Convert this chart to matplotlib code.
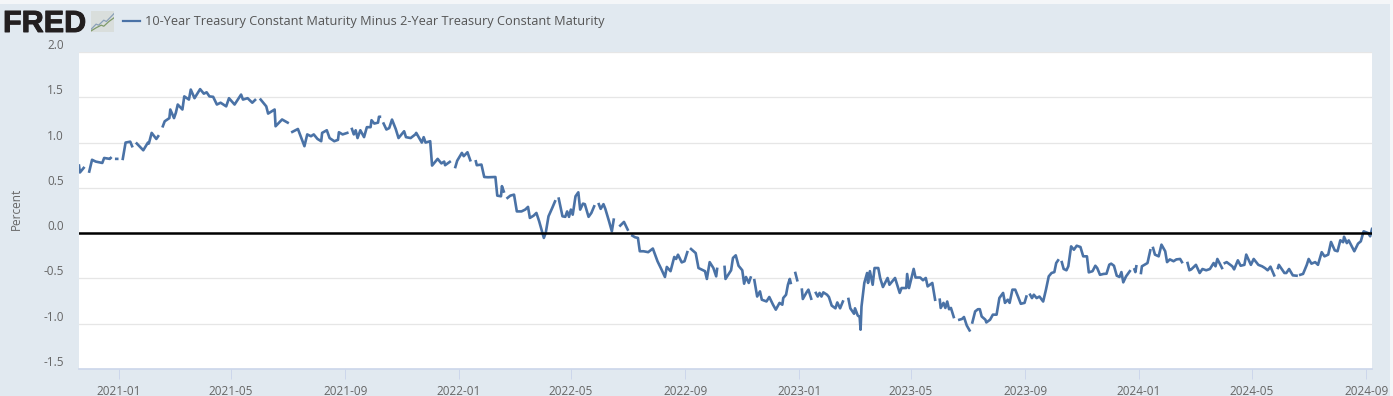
import numpy as np
import pandas as pd
import matplotlib
matplotlib.use("Agg")
import matplotlib.pyplot as plt
import matplotlib.patheffects as pe
from matplotlib.lines import Line2D

plt.rcParams["font.family"] = ["Open Sans", "DejaVu Sans"]

nan = np.nan

# -----------------------------
# Data (nan = gap in the series)
# -----------------------------
dates_2020 = ["2020-11-19", "2020-11-20", "2020-11-24", "2020-11-27", "2020-11-30", "2020-12-03", "2020-12-07",
              "2020-12-14", "2020-12-16", "2020-12-22", "2020-12-23", "2020-12-26", "2020-12-29", "2020-12-30"]
values_2020 = [0.746, 0.67, 0.72, nan, 0.68, 0.81, 0.79,
               0.775, 0.83, 0.82, 0.83, nan, 0.82, 0.82]

dates_2021 = ["2021-01-02", "2021-01-05", "2021-01-08", "2021-01-13", "2021-01-15", "2021-01-17", "2021-01-20",
              "2021-01-27", "2021-02-01", "2021-02-02", "2021-02-05", "2021-02-10", "2021-02-12", "2021-02-14",
              "2021-02-17", "2021-02-19", "2021-02-24", "2021-02-25", "2021-03-01", "2021-03-03", "2021-03-05",
              "2021-03-10", "2021-03-12", "2021-03-17", "2021-03-19", "2021-03-23", "2021-03-29", "2021-04-02",
              "2021-04-05", "2021-04-08", "2021-04-12", "2021-04-16", "2021-04-20", "2021-04-26", "2021-04-29",
              "2021-05-05", "2021-05-12", "2021-05-14", "2021-05-19", "2021-05-24", "2021-05-27", "2021-05-30",
              "2021-06-02", "2021-06-08", "2021-06-10", "2021-06-17", "2021-06-18", "2021-06-25", "2021-07-01",
              "2021-07-04", "2021-07-06", "2021-07-12", "2021-07-15", "2021-07-19", "2021-07-22", "2021-07-26",
              "2021-07-29", "2021-08-02", "2021-08-06", "2021-08-07", "2021-08-12", "2021-08-15", "2021-08-20",
              "2021-08-24", "2021-08-25", "2021-08-29", "2021-09-03", "2021-09-05", "2021-09-08", "2021-09-10",
              "2021-09-12", "2021-09-14", "2021-09-17", "2021-09-21", "2021-09-24", "2021-09-28", "2021-09-29",
              "2021-10-02", "2021-10-06", "2021-10-07", "2021-10-08", "2021-10-10", "2021-10-12", "2021-10-15",
              "2021-10-18", "2021-10-21", "2021-10-25", "2021-10-28", "2021-11-03", "2021-11-05", "2021-11-10",
              "2021-11-15", "2021-11-16", "2021-11-22", "2021-11-24", "2021-11-26", "2021-12-01", "2021-12-03",
              "2021-12-09", "2021-12-13", "2021-12-16", "2021-12-17", "2021-12-22", "2021-12-25", "2021-12-28",
              "2021-12-30"]
values_2021 = [nan, 0.82, 1.0, 1.01, 0.96, nan, 0.99,
               0.915, 1.0, 0.99, 1.107, 1.04, 1.07, nan,
               1.18, 1.235, 1.27, 1.365, 1.27, 1.33, 1.42,
               1.365, 1.51, 1.475, 1.585, 1.49, 1.59, 1.54,
               1.555, 1.51, 1.505, 1.42, 1.44, 1.40, 1.49,
               1.42, 1.53, 1.475, 1.49, 1.44, 1.47, nan,
               1.475, 1.40, 1.32, 1.365, 1.18, 1.255, 1.22,
               nan, 1.118, 1.15, 1.07, 0.96, 1.09, 1.07,
               1.09, 1.04, 1.015, 1.107, 1.136, 1.05, 1.015,
               1.03, 1.114, 1.09, 1.107, nan, 1.15, 1.09,
               1.136, 1.05, 1.136, 1.06, 1.17, 1.17, 1.247,
               1.21, 1.22, 1.285, 1.285, nan, 1.21, 1.144,
               1.16, 1.254, 1.15, 1.05, 1.125, 1.06, 1.05,
               1.09, 1.107, 1.0, 1.06, 1.0, 1.015, 0.746,
               0.82, 0.77, 0.79, 0.75, 0.787, nan, 0.73,
               0.80]

dates_2022 = ["2022-01-04", "2022-01-06", "2022-01-10", "2022-01-13", "2022-01-16", "2022-01-19", "2022-01-20",
              "2022-01-25", "2022-01-28", "2022-02-01", "2022-02-09", "2022-02-11", "2022-02-15", "2022-02-16",
              "2022-02-18", "2022-02-20", "2022-02-22", "2022-02-25", "2022-03-01", "2022-03-04", "2022-03-09",
              "2022-03-13", "2022-03-16", "2022-03-18", "2022-03-22", "2022-03-25", "2022-03-28", "2022-04-02",
              "2022-04-04", "2022-04-07", "2022-04-11", "2022-04-14", "2022-04-16", "2022-04-18", "2022-04-22",
              "2022-04-25", "2022-04-27", "2022-04-29", "2022-05-01", "2022-05-03", "2022-05-06", "2022-05-09",
              "2022-05-11", "2022-05-14", "2022-05-16", "2022-05-20", "2022-05-23", "2022-05-26", "2022-05-29",
              "2022-05-31", "2022-06-02", "2022-06-05", "2022-06-07", "2022-06-11", "2022-06-14", "2022-06-16",
              "2022-06-20", "2022-06-23", "2022-06-27", "2022-07-01", "2022-07-04", "2022-07-06", "2022-07-09",
              "2022-07-12", "2022-07-14", "2022-07-18", "2022-07-23", "2022-07-28", "2022-08-02", "2022-08-06",
              "2022-08-10", "2022-08-12", "2022-08-16", "2022-08-20", "2022-08-22", "2022-08-24", "2022-08-28",
              "2022-08-31", "2022-09-03", "2022-09-05", "2022-09-07", "2022-09-12", "2022-09-15", "2022-09-18",
              "2022-09-22", "2022-09-24", "2022-09-27", "2022-10-01", "2022-10-04", "2022-10-05", "2022-10-09",
              "2022-10-13", "2022-10-14", "2022-10-20", "2022-10-22", "2022-10-25", "2022-10-28", "2022-11-01",
              "2022-11-03", "2022-11-05", "2022-11-08", "2022-11-10", "2022-11-12", "2022-11-14", "2022-11-17",
              "2022-11-20", "2022-11-22", "2022-11-27", "2022-11-30", "2022-12-04", "2022-12-07", "2022-12-11",
              "2022-12-14", "2022-12-15", "2022-12-18", "2022-12-20", "2022-12-22", "2022-12-23", "2022-12-25",
              "2022-12-28", "2022-12-30"]
values_2022 = [0.886, 0.85, 0.893, 0.805, nan, 0.793, 0.75,
               0.757, 0.62, 0.617, 0.62, 0.414, 0.407, 0.519,
               0.46, nan, 0.389, 0.414, 0.425, 0.24, 0.24,
               0.26, 0.29, 0.168, 0.193, 0.223, 0.13, -0.053,
               0.002, 0.186, 0.278, 0.351, nan, 0.381, 0.186,
               0.18, 0.24, 0.18, 0.26, 0.204, 0.407, 0.451,
               0.26, 0.326, 0.32, 0.18, 0.223, 0.296, nan,
               0.32, 0.268, 0.32, 0.268, 0.13, 0.02, 0.149,
               nan, 0.083, 0.124, 0.039, nan, -0.028, -0.046,
               -0.053, -0.20, -0.20, -0.21, -0.17, -0.31, -0.395,
               -0.484, -0.373, -0.42, -0.263, -0.285, -0.238, -0.323,
               -0.31, -0.21, nan, -0.175, -0.22, -0.385, -0.40,
               -0.42, -0.506, -0.32, -0.385, -0.477, -0.395, nan,
               -0.373, -0.506, -0.41, -0.274, -0.245, -0.36, -0.41,
               -0.558, -0.484, -0.55, -0.49, nan, -0.52, -0.70,
               -0.643, -0.735, -0.754, -0.705, -0.79, -0.845, -0.77,
               -0.79, -0.716, -0.68, -0.57, -0.506, -0.55, nan,
               -0.44, -0.52]

dates_2023 = ["2023-01-01", "2023-01-04", "2023-01-05", "2023-01-09", "2023-01-11", "2023-01-14", "2023-01-16",
              "2023-01-19", "2023-01-21", "2023-01-23", "2023-01-25", "2023-01-27", "2023-01-31", "2023-02-02",
              "2023-02-05", "2023-02-09", "2023-02-11", "2023-02-14", "2023-02-17", "2023-02-20", "2023-02-23",
              "2023-02-25", "2023-03-01", "2023-03-02", "2023-03-05", "2023-03-07", "2023-03-08", "2023-03-09",
              "2023-03-12", "2023-03-15", "2023-03-16", "2023-03-18", "2023-03-21", "2023-03-23", "2023-03-27",
              "2023-03-29", "2023-04-01", "2023-04-06", "2023-04-08", "2023-04-14", "2023-04-19", "2023-04-21",
              "2023-04-26", "2023-04-27", "2023-04-29", "2023-05-04", "2023-05-06", "2023-05-11", "2023-05-14",
              "2023-05-17", "2023-05-19", "2023-05-24", "2023-05-27", "2023-05-29", "2023-06-01", "2023-06-02",
              "2023-06-05", "2023-06-07", "2023-06-09", "2023-06-11", "2023-06-13", "2023-06-16", "2023-06-19",
              "2023-06-22", "2023-06-25", "2023-06-27", "2023-06-30", "2023-07-03", "2023-07-04", "2023-07-06",
              "2023-07-09", "2023-07-12", "2023-07-14", "2023-07-16", "2023-07-20", "2023-07-21", "2023-07-25",
              "2023-07-28", "2023-08-01", "2023-08-04", "2023-08-08", "2023-08-10", "2023-08-13", "2023-08-15",
              "2023-08-18", "2023-08-21", "2023-08-24", "2023-08-27", "2023-08-31", "2023-09-02", "2023-09-04",
              "2023-09-06", "2023-09-08", "2023-09-10", "2023-09-13", "2023-09-16", "2023-09-20", "2023-09-23",
              "2023-09-26", "2023-09-29", "2023-10-02", "2023-10-04", "2023-10-06", "2023-10-08", "2023-10-10",
              "2023-10-12", "2023-10-15", "2023-10-17", "2023-10-20", "2023-10-23", "2023-10-26", "2023-10-30",
              "2023-11-02", "2023-11-06", "2023-11-08", "2023-11-12", "2023-11-15", "2023-11-17", "2023-11-20",
              "2023-11-24", "2023-11-27", "2023-11-30", "2023-12-02", "2023-12-05", "2023-12-08", "2023-12-11",
              "2023-12-13", "2023-12-15", "2023-12-18", "2023-12-22", "2023-12-24", "2023-12-27", "2023-12-28",
              "2023-12-29", "2023-12-31"]
values_2023 = [nan, -0.624, -0.727, -0.654, -0.624, -0.724, nan,
               -0.66, -0.70, -0.66, -0.70, -0.654, -0.68, -0.705,
               -0.80, -0.83, -0.765, -0.83, -0.755, nan, -0.727,
               -0.83, -0.89, -0.83, -0.91, -0.925, -1.066, -0.81,
               -0.55, -0.44, -0.55, -0.42, -0.57, -0.385, -0.385,
               -0.495, -0.595, -0.495, -0.57, -0.495, -0.66, -0.606,
               -0.606, -0.451, -0.606, -0.395, -0.49, -0.49, -0.52,
               -0.495, -0.588, -0.55, -0.735, nan, -0.735, -0.826,
               -0.77, -0.826, -0.755, -0.84, -0.826, -0.926, nan,
               -0.956, -0.947, -0.926, -1.02, -1.074, nan, -0.986,
               -0.864, -0.84, -0.84, -0.92, -0.956, -0.986, -0.956,
               -0.90, -0.90, -0.716, -0.66, -0.77, -0.735, -0.77,
               -0.624, -0.624, -0.70, -0.78, -0.77, -0.70, nan,
               -0.68, -0.717, -0.68, -0.717, -0.70, -0.755, -0.624,
               -0.477, -0.44, -0.43, -0.33, -0.30, nan, -0.32,
               -0.395, -0.41, -0.366, -0.146, -0.183, -0.139, -0.153,
               -0.256, -0.256, -0.433, -0.42, -0.36, -0.385, -0.46,
               -0.45, -0.448, -0.348, -0.337, -0.36, -0.47, -0.484,
               -0.43, -0.543, -0.477, -0.42, nan, -0.40, -0.43,
               -0.366, nan]

dates_2024 = ["2024-01-03", "2024-01-04", "2024-01-10", "2024-01-13", "2024-01-15", "2024-01-16", "2024-01-18",
              "2024-01-22", "2024-01-25", "2024-01-29", "2024-01-31", "2024-02-03", "2024-02-07", "2024-02-10",
              "2024-02-14", "2024-02-16", "2024-02-19", "2024-02-22", "2024-02-24", "2024-02-26", "2024-03-02",
              "2024-03-06", "2024-03-09", "2024-03-13", "2024-03-17", "2024-03-21", "2024-03-23", "2024-03-25",
              "2024-03-30", "2024-03-31", "2024-04-02", "2024-04-04", "2024-04-10", "2024-04-12", "2024-04-16",
              "2024-04-19", "2024-04-23", "2024-04-25", "2024-04-30", "2024-05-03", "2024-05-08", "2024-05-12",
              "2024-05-15", "2024-05-18", "2024-05-21", "2024-05-25", "2024-05-27", "2024-05-29", "2024-05-30",
              "2024-06-05", "2024-06-07", "2024-06-10", "2024-06-14", "2024-06-18", "2024-06-20", "2024-06-22",
              "2024-06-25", "2024-06-29", "2024-07-01", "2024-07-04", "2024-07-08", "2024-07-11", "2024-07-15",
              "2024-07-18", "2024-07-22", "2024-07-25", "2024-07-29", "2024-08-01", "2024-08-04", "2024-08-07",
              "2024-08-08", "2024-08-11", "2024-08-13", "2024-08-19", "2024-08-23", "2024-08-26", "2024-08-29",
              "2024-09-03", "2024-09-05", "2024-09-07"]
values_2024 = [-0.44, -0.366, -0.33, -0.19, nan, -0.164, -0.237,
               -0.256, -0.127, -0.20, -0.32, -0.29, -0.31, -0.29,
               -0.285, -0.32, nan, -0.33, -0.41, -0.40, -0.35,
               -0.44, -0.396, -0.41, -0.396, -0.33, -0.366, -0.285,
               -0.385, nan, -0.33, -0.32, -0.366, -0.40, -0.30,
               -0.36, -0.35, -0.237, -0.35, -0.285, -0.35, -0.366,
               -0.385, -0.41, -0.37, -0.466, nan, -0.385, -0.35,
               -0.44, -0.44, -0.396, -0.466, -0.47, nan, -0.46,
               -0.45, -0.35, -0.285, -0.337, -0.32, -0.35, -0.21,
               -0.256, -0.237, -0.097, -0.19, -0.20, -0.079, -0.10,
               -0.04, -0.11, -0.08, -0.20, -0.116, -0.09, 0.02,
               0.0, -0.035, 0.046]

dates = pd.to_datetime(dates_2020 + dates_2021 + dates_2022 + dates_2023 + dates_2024)
values = values_2020 + values_2021 + values_2022 + values_2023 + values_2024

y_ticks = [-1.5, -1.0, -0.5, 0.0, 0.5, 1.0, 1.5, 2.0]
x_tick_labels = ["2021-01", "2021-05", "2021-09", "2022-01", "2022-05", "2022-09",
                 "2023-01", "2023-05", "2023-09", "2024-01", "2024-05", "2024-09"]
legend_label = "10-Year Treasury Constant Maturity Minus 2-Year Treasury Constant Maturity"

# -----------------------------
# Figure
# -----------------------------
W, H = 1393, 396
BG = "#e1e9f0"
LINE = "#4a72a6"
GREY = "#666666"

fig = plt.figure(figsize=(W / 100, H / 100), dpi=100, facecolor=BG)
ax = fig.add_axes([79 / W, 1 - 369 / H, (1372 - 79) / W, (369 - 52) / H])

ax.plot(dates, values, color=LINE, lw=1.9, solid_joinstyle="round", zorder=3)
ax.axhline(0, color="black", lw=1.8, zorder=4)

ax.set_xlim(pd.Timestamp("2020-11-19"), pd.Timestamp("2024-09-07"))
ax.set_ylim(-1.5, 2.0)

ax.set_yticks(y_ticks)
ax.set_yticklabels([f"{t:.1f}" for t in y_ticks], fontsize=8.5, color=GREY, va="bottom")
ax.tick_params(axis="y", length=0, pad=11)
ax.grid(axis="y", color="#e6e6e6", lw=0.9)
ax.set_axisbelow(True)

ax.set_xticks(pd.to_datetime([t + "-01" for t in x_tick_labels]))
ax.set_xticklabels(x_tick_labels, fontsize=8.5, color=GREY)
ax.tick_params(axis="x", length=7, width=0.7, color="#ccd6eb", pad=4.5)

for side in ["top", "left", "right"]:
    ax.spines[side].set_visible(False)
ax.spines["bottom"].set_color("#ccd6eb")
ax.spines["bottom"].set_linewidth(1.2)

fig.text(16 / W, 1 - 209 / H, "Percent", rotation=90, fontsize=8.5, color=GREY, ha="center", va="center")

# light strips along the top and right edge of the image
fig.add_artist(plt.Rectangle((0, 1 - 4 / H), 1, 4 / H, transform=fig.transFigure, color="#f4f6f8", lw=0))
fig.add_artist(plt.Rectangle((1 - 3 / W, 0), 3 / W, 1, transform=fig.transFigure, color="#f4f6f8", lw=0))

# FRED logo and legend
fig.text(3 / W, 1 - 32 / H, "FRED", fontsize=22, fontweight="bold", color="#231f20",
         family=["Liberation Sans", "DejaVu Sans"], ha="left", va="baseline",
         path_effects=[pe.withStroke(linewidth=0.7, foreground="#231f20")])
icon = fig.add_axes([91 / W, 1 - 32 / H, 23 / W, 21 / H], facecolor="#d9dedc")
icon.plot([0, 2, 3, 5, 6, 9], [1, 3, 2.6, 4.5, 4, 7], color="#8aa0b8", lw=0.9)
icon.plot([0, 2, 4, 5, 7, 9], [0.4, 1.6, 2.6, 2.2, 4, 5.4], color="#7f9a6a", lw=0.9)
icon.set_xlim(0, 9)
icon.set_ylim(0, 8)
icon.set_xticks([])
icon.set_yticks([])
for side in icon.spines.values():
    side.set_visible(False)

fig.add_artist(Line2D([123 / W, 140 / W], [1 - 21 / H, 1 - 21 / H], color=LINE, lw=1.6))
fig.text(145 / W, 1 - 21 / H, legend_label, fontsize=9.15, color="#555555", ha="left", va="center")

fig.savefig("out.png", dpi=100, facecolor=BG)
